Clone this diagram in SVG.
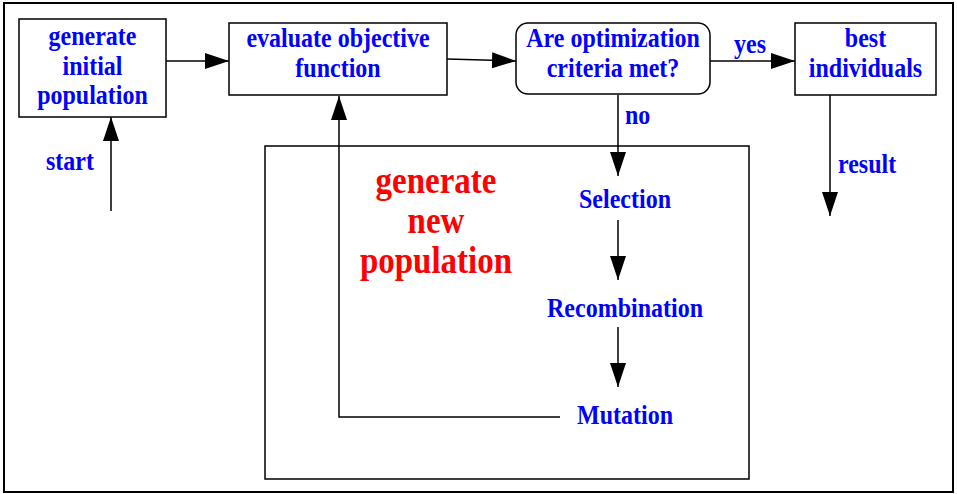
<svg xmlns="http://www.w3.org/2000/svg" width="957" height="494" viewBox="0 0 957 494">
  <style>
    .box { fill: #fff; stroke: #000; stroke-width: 1.5; }
    .frame { fill: none; stroke: #000; stroke-width: 2; }
    .wire { fill: none; stroke: #000; stroke-width: 1.5; }
    .lbl { font-family: "Liberation Serif", "Times New Roman", serif; font-weight: bold; font-size: 24px; fill: #0000ff; }
    .mid { text-anchor: middle; }
    .big { font-family: "Liberation Serif", "Times New Roman", serif; font-weight: bold; font-size: 33px; fill: #ff0000; text-anchor: middle; }
  </style>
  <defs>
    <marker id="head" markerUnits="userSpaceOnUse" markerWidth="26" markerHeight="18" refX="24" refY="8" orient="auto">
      <path d="M0,0 L24,8 L0,16 Z" fill="#000"/>
    </marker>
  </defs>

  <rect width="957" height="494" fill="#fff"/>
  <rect class="frame" x="4" y="3" width="949" height="489"/>

  <!-- inner loop region; labels use a slightly tall type (scaled vertically) -->
  <g id="new-population">
    <rect class="box" x="265" y="146" width="484" height="333"/>
    <text class="big" transform="translate(436,193) scale(1,1.15)">generate</text>
    <text class="big" transform="translate(436,233) scale(1,1.15)">new</text>
    <text class="big" transform="translate(436,273) scale(1,1.15)">population</text>
  </g>

  <g id="connectors">
    <line class="wire" x1="166" y1="61" x2="229" y2="61" marker-end="url(#head)"/>
    <line class="wire" x1="447" y1="59" x2="516" y2="61" marker-end="url(#head)"/>
    <line class="wire" x1="710" y1="61" x2="795" y2="61" marker-end="url(#head)"/>
    <line class="wire" x1="111" y1="211" x2="111" y2="117" marker-end="url(#head)"/>
    <line class="wire" x1="618" y1="95" x2="618" y2="176" marker-end="url(#head)"/>
    <line class="wire" x1="830" y1="95" x2="830" y2="216" marker-end="url(#head)"/>
    <line class="wire" x1="618" y1="220" x2="618" y2="280" marker-end="url(#head)"/>
    <line class="wire" x1="618" y1="327" x2="618" y2="387" marker-end="url(#head)"/>
    <polyline class="wire" points="560,417 339,417 339,96" marker-end="url(#head)"/>
    <text class="lbl" transform="translate(46,170) scale(1,1.15)">start</text>
    <text class="lbl mid" transform="translate(750,53) scale(1,1.15)">yes</text>
    <text class="lbl" transform="translate(625,124) scale(1,1.15)">no</text>
    <text class="lbl" transform="translate(838,173) scale(1,1.15)">result</text>
  </g>

  <g id="init">
    <rect class="box" x="19" y="19" width="147" height="98"/>
    <text class="lbl mid" transform="translate(92.5,45) scale(1,1.15)">generate</text>
    <text class="lbl mid" transform="translate(92.5,75) scale(1,1.15)">initial</text>
    <text class="lbl mid" transform="translate(92.5,104) scale(1,1.15)">population</text>
  </g>

  <g id="evaluate">
    <rect class="box" x="229" y="23" width="218" height="72"/>
    <text class="lbl mid" transform="translate(338,47) scale(1,1.15)">evaluate objective</text>
    <text class="lbl mid" transform="translate(338,77) scale(1,1.15)">function</text>
  </g>

  <g id="criteria">
    <rect class="box" x="516" y="23" width="194" height="71" rx="12" ry="12"/>
    <text class="lbl mid" transform="translate(613,47) scale(1,1.15)">Are optimization</text>
    <text class="lbl mid" transform="translate(613,77) scale(1,1.15)">criteria met?</text>
  </g>

  <g id="best">
    <rect class="box" x="795" y="23" width="141" height="72"/>
    <text class="lbl mid" transform="translate(865.5,47) scale(1,1.15)">best</text>
    <text class="lbl mid" transform="translate(865.5,77) scale(1,1.15)">individuals</text>
  </g>

  <g id="selection">
    <text class="lbl mid" transform="translate(625,208) scale(1,1.15)">Selection</text>
  </g>
  <g id="recombination">
    <text class="lbl mid" transform="translate(625,317) scale(1,1.15)">Recombination</text>
  </g>
  <g id="mutation">
    <text class="lbl mid" transform="translate(625,424) scale(1,1.15)">Mutation</text>
  </g>
</svg>
